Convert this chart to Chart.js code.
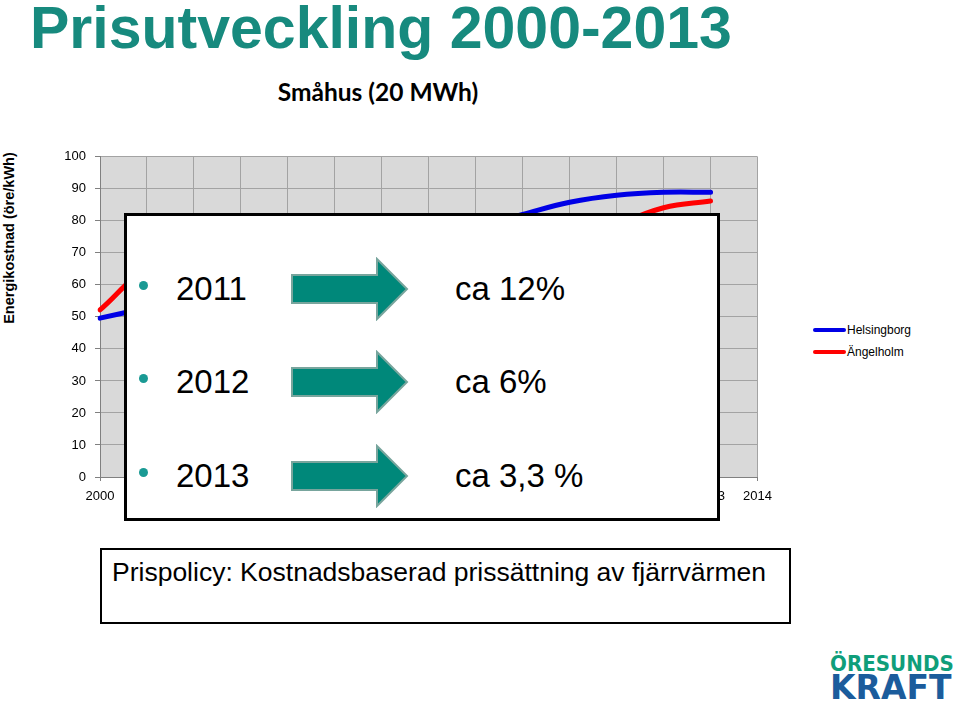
<!DOCTYPE html>
<html>
<head>
<meta charset="utf-8">
<script src="https://cdn.jsdelivr.net/npm/chart.js@4"></script>
<style>
  body { margin: 0; background: #fff; font-family: "Liberation Sans", Arial, sans-serif; }
  #page { position: relative; width: 960px; height: 703px; overflow: hidden; }
  .abs { position: absolute; white-space: nowrap; }
  #title { left: 30px; top: -1px; font-size: 59px; font-weight: bold; color: #178a7e; line-height: 59px; }
  #subtitle { left: 0; width: 756px; text-align: center; top: 78px; font-family: Lato, "Open Sans", sans-serif; font-weight: bold; font-size: 24.5px; line-height: 28px; }
  #ytitle { left: 9px; top: 238px; font-size: 14.5px; font-weight: bold; transform: translate(-50%, -50%) rotate(-90deg); }
  #chartWrap { left: 0; top: 140px; width: 780px; height: 376px; }
  #legend { left: 813px; top: 319px; font-size: 12px; }
  .lg { display: flex; align-items: center; height: 22px; }
  .lg span.sw { display: inline-block; width: 33px; height: 4px; border-radius: 2px; margin-right: 1px; }
  #overlay { left: 124px; top: 213px; width: 596px; height: 308px; border: 3px solid #000; background: #fff; box-sizing: border-box; }
  .bullet { width: 9px; height: 9px; border-radius: 50%; background: #1a9a94; }
  .big { font-size: 33px; line-height: 33px; color: #000; }
  #policy { left: 100px; top: 548px; width: 691px; height: 76px; border: 2px solid #000; box-sizing: border-box; }
  #policyText { left: 112px; top: 557px; font-size: 26.5px; line-height: 30px; }
  #logo1 { left: 830px; top: 654px; font-size: 20.5px; font-weight: bold; color: #0f9e7a; transform-origin: 0 0; transform: scaleX(0.97); line-height: 20.5px; font-family: "DejaVu Sans", sans-serif; }
  #logo2 { left: 830px; top: 670px; font-size: 34px; font-weight: bold; color: #1b5c9c; transform-origin: 0 0; transform: scaleX(0.97); line-height: 34px; font-family: "DejaVu Sans", sans-serif; }
</style>
</head>
<body>
<div id="page">
  <div id="title" class="abs">Prisutveckling 2000-2013</div>
  <div id="subtitle" class="abs">Småhus (20 MWh)</div>
  <div id="ytitle" class="abs">Energikostnad (öre/kWh)</div>
  <div id="chartWrap" class="abs"><canvas id="priceChart"></canvas></div>
  <div id="legend" class="abs"></div>
  <div id="overlay" class="abs"></div>
  <div id="rows"></div>
  <div id="policy" class="abs"></div>
  <div id="policyText" class="abs">Prispolicy: Kostnadsbaserad prissättning av fjärrvärmen</div>
  <div id="logo1" class="abs">ÖRESUNDS</div>
  <div id="logo2" class="abs">KRAFT</div>
</div>
<script>
/* ===== DATA ===== */
const years = ["2000","2001","2002","2003","2004","2005","2006","2007","2008","2009","2010","2011","2012","2013","2014"];
const seriesNames = ["Helsingborg", "Ängelholm"];
const helsingborg = [49.6, 52.8, 56, 59, 62, 66, 70, 74, 78, 82, 85.8, 88, 88.9, 88.9];
const angelholm = [52.2, 64.5, 66, 64, 62, 63, 65, 67, 69, 68, 71, 78.5, 84.1, 86.2];
const yTicks = [0, 10, 20, 30, 40, 50, 60, 70, 80, 90, 100];
const changeYears = ["2011", "2012", "2013"];
const changeTexts = ["ca 12%", "ca 6%", "ca 3,3 %"];

const lineColors = ["#0000e6", "#ff0000"];

/* ===== PLOT BACKGROUND ===== */
const plotBg = {
    id: "plotBg",
    beforeDraw(chart) {
        const a = chart.chartArea;
        const c = chart.ctx;
        c.save();
        c.fillStyle = "#d9d9d9";
        c.fillRect(a.left, a.top, a.right - a.left, a.bottom - a.top);
        c.restore();
    }
};

const ctx = document.getElementById("priceChart").getContext("2d");
new Chart(ctx, {
    type: "line",
    data: {
        labels: years,
        datasets: [
            { label: seriesNames[0], data: helsingborg, borderColor: lineColors[0], backgroundColor: lineColors[0] },
            { label: seriesNames[1], data: angelholm, borderColor: lineColors[1], backgroundColor: lineColors[1] }
        ]
    },
    options: {
        responsive: true,
        maintainAspectRatio: false,
        animation: false,
        layout: { padding: { left: 0, right: 21, top: 10, bottom: 9 } },
        elements: {
            line: { borderWidth: 5, tension: 0.4, borderCapStyle: "round" },
            point: { radius: 0 }
        },
        plugins: { legend: { display: false }, tooltip: { enabled: false } },
        scales: {
            x: {
                offset: false,
                grid: { color: "#a3a3a3", tickLength: 4, tickColor: "#808080" },
                border: { color: "#808080" },
                ticks: { color: "#000", font: { family: "Liberation Sans", size: 13 }, padding: 8, maxRotation: 0, autoSkip: false },
                afterFit: s => { s.height = 30; }
            },
            y: {
                min: 0,
                max: 100,
                afterBuildTicks: s => { s.ticks = yTicks.map(v => ({ value: v })); },
                grid: { color: "#a3a3a3", tickLength: 5, tickColor: "#808080" },
                border: { color: "#808080" },
                ticks: { color: "#000", font: { family: "Liberation Sans", size: 13 }, padding: 9 },
                afterFit: s => { s.width = 100; }
            }
        }
    },
    plugins: [plotBg]
});

/* ===== LEGEND ===== */
const legend = document.getElementById("legend");
seriesNames.forEach((name, i) => {
    const row = document.createElement("div");
    row.className = "lg";
    row.innerHTML = '<span class="sw" style="background:' + lineColors[i] + '"></span>' + name;
    legend.appendChild(row);
});

/* ===== OVERLAY ROWS ===== */
const rows = document.getElementById("rows");
const rowCenters = [288, 381, 475];
const arrowSvg = '<svg width="120" height="64" viewBox="0 0 120 64">' +
    '<path d="M2 18 H87 V2 L117 32 L87 62 V46 H2 Z" fill="#00887a" stroke="#78a59d" stroke-width="2"/></svg>';
changeYears.forEach((yr, i) => {
    const cy = rowCenters[i];
    rows.insertAdjacentHTML("beforeend",
        '<div class="abs bullet" style="left:139px;top:' + (cy - 7) + 'px"></div>' +
        '<div class="abs big" style="left:176px;top:' + (cy - 16) + 'px">' + yr + '</div>' +
        '<div class="abs" style="left:290px;top:' + (cy - 31) + 'px">' + arrowSvg + '</div>' +
        '<div class="abs big" style="left:455px;top:' + (cy - 16) + 'px">' + changeTexts[i] + '</div>');
});
</script>
</body>
</html>
